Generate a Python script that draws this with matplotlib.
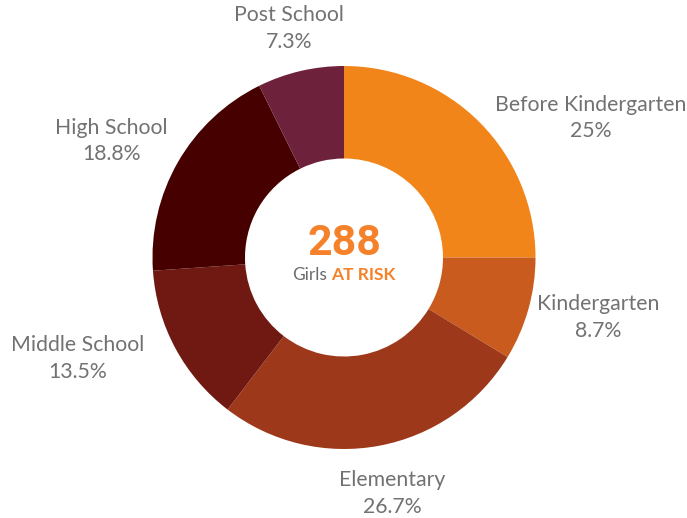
import numpy as np
import matplotlib
matplotlib.use("Agg")
import matplotlib.pyplot as plt
from matplotlib.offsetbox import TextArea, HPacker, AnnotationBbox

stages = ["Before Kindergarten", "Kindergarten", "Elementary",
          "Middle School", "High School", "Post School"]
shares = [25.0, 8.7, 26.7, 13.5, 18.8, 7.3]
share_labels = ["25%", "8.7%", "26.7%", "13.5%", "18.8%", "7.3%"]
total_girls = 288

colors = ["#F2851A", "#C95B1E", "#9D391A", "#701912", "#460000", "#6D213A"]
label_nudge = [(84, -23), (33, 2), (6, -10), (-64, 8), (-33, 2), (-3, 5)]  # px tweaks

W, H = 687, 518
cx, cy = 344, H - 257.5
R = 191.5
hole = 99

fig = plt.figure(figsize=(W / 100, H / 100), dpi=100)
ax = fig.add_axes([0, 0, 1, 1])

wedges, _ = ax.pie(shares, colors=colors, startangle=90, counterclock=False,
                   radius=R, center=(cx, cy), frame=True,
                   wedgeprops=dict(width=R - hole, linewidth=0))
ax.set_xlim(0, W)
ax.set_ylim(0, H)
ax.set_aspect("equal")
ax.axis("off")

label_color = "#727272"
for w, name, pct, (nx_, ny_) in zip(wedges, stages, share_labels, label_nudge):
    ang = np.deg2rad((w.theta1 + w.theta2) / 2)
    x = cx + 1.2 * R * np.cos(ang) + nx_
    y = cy + 1.2 * R * np.sin(ang) + ny_
    ax.text(x, y, f"{name}\n{pct}", ha="center", va="center", fontsize=15.3,
            family=["Lato", "DejaVu Sans"], fontweight="normal",
            color=label_color, linespacing=1.42)

# centre text
orange = "#F5822A"
ax.text(cx, cy + 14, str(total_girls), ha="center", va="center", fontsize=31,
        fontweight="bold", family=["Roboto", "DejaVu Sans"], color=orange)
girls = TextArea("Girls", textprops=dict(fontsize=12.5, color="#6B6B6B",
                                          family=["Lato", "DejaVu Sans"]))
risk = TextArea("AT RISK", textprops=dict(fontsize=12.5, color=orange,
                                           fontweight="bold",
                                           family=["Lato", "DejaVu Sans"]))
box = HPacker(children=[girls, risk], sep=3, pad=0, align="baseline")
ab = AnnotationBbox(box, (cx, cy - 17), frameon=False, box_alignment=(0.5, 0.5))
ax.add_artist(ab)

fig.savefig("out.png", dpi=100)
